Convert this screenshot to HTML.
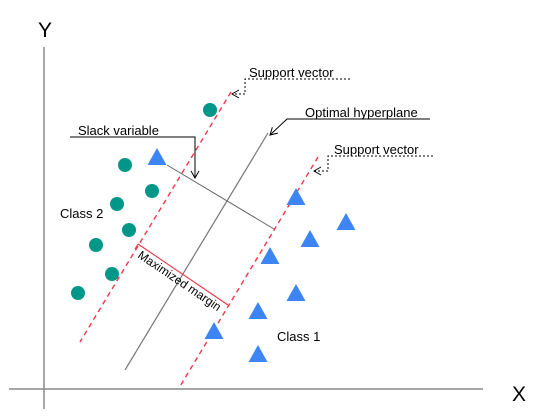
<!DOCTYPE html>
<html><head><meta charset="utf-8"><style>
body{margin:0;background:#fff}
svg{display:block;font-family:"Liberation Sans","DejaVu Sans",sans-serif}
</style></head><body>
<svg id="c" width="545" height="417" viewBox="0 0 545 417">
<defs>
<marker id="ah" markerWidth="10" markerHeight="10" refX="8" refY="5" orient="auto" markerUnits="userSpaceOnUse">
<path d="M1,1 L8,5 L1,9" fill="none" stroke="#000" stroke-width="1"/></marker>
</defs>
<line x1="44" y1="47" x2="44" y2="409" stroke="#888" stroke-width="1.5"/>
<line x1="9" y1="389" x2="483" y2="389" stroke="#888" stroke-width="1.5"/>
<text x="45" y="37" font-size="21" text-anchor="middle">Y</text>
<text x="519" y="401" font-size="21" text-anchor="middle">X</text>

<line x1="231" y1="92" x2="80" y2="342" stroke="#f0364a" stroke-width="1.4" stroke-dasharray="5,4"/>
<line x1="318" y1="157" x2="179" y2="388" stroke="#f0364a" stroke-width="1.4" stroke-dasharray="5,4"/>
<line x1="268" y1="133" x2="125" y2="370" stroke="#777" stroke-width="1.2"/>
<line x1="167" y1="165" x2="274" y2="229" stroke="#666" stroke-width="1"/>
<line x1="138" y1="244" x2="228" y2="305" stroke="#f0364a" stroke-width="1.1"/>
<line x1="138" y1="244" x2="135" y2="249" stroke="#f0364a" stroke-width="1.1"/>
<text transform="translate(137,257) rotate(34)" font-size="12">Maximized margin</text>

<g id="pts"></g>

<text x="60" y="218" font-size="13">Class 2</text>
<text x="277" y="341" font-size="13">Class 1</text>

<text x="78" y="135" font-size="13">Slack variable</text>
<polyline points="70,137 195,137 195,178" fill="none" stroke="#000" stroke-width="1" marker-end="url(#ah)"/>

<text x="305" y="117" font-size="13">Optimal hyperplane</text>
<polyline points="430,119 287,119 270,135" fill="none" stroke="#000" stroke-width="1" marker-end="url(#ah)"/>

<text x="249" y="77" font-size="13">Support vector</text>
<polyline points="350,79 245,79 245,94 232,94" fill="none" stroke="#000" stroke-width="1" stroke-dasharray="2,2" marker-end="url(#ah)"/>
<text x="334" y="154" font-size="13">Support vector</text>
<polyline points="433,156 328,156 328,171 314,171" fill="none" stroke="#000" stroke-width="1" stroke-dasharray="2,2" marker-end="url(#ah)"/>
</svg>
<script>
// data coordinates: x right from Y axis, y up from X axis
const class2X=[166,81,108,73,85,52,68,34];
const class2Y=[280,225,199,186,160,145,116,97];
const class1X=[113,252,302,266,226,252,214,170,214];
const class1Y=[232,192,167,150,133,96,78,58,35];
const sx=v=>44+v, sy=v=>390-v;
const g=document.getElementById('pts');
const NS='http://www.w3.org/2000/svg';
class2X.forEach((x,i)=>{
  const c=document.createElementNS(NS,'circle');
  c.setAttribute('cx',sx(x));c.setAttribute('cy',sy(class2Y[i]));c.setAttribute('r',7);c.setAttribute('fill','#009688');
  
  
  g.appendChild(c);
});
class1X.forEach((x,i)=>{
  const cx=sx(x),cy=sy(class1Y[i]);
  const p=document.createElementNS(NS,'polygon');
  p.setAttribute('points',`${cx},${cy-10} ${cx+9.5},${cy+7} ${cx-9.5},${cy+7}`);p.setAttribute('fill','#3d85f5');
  
  
  g.appendChild(p);
});
</script>
</body></html>
